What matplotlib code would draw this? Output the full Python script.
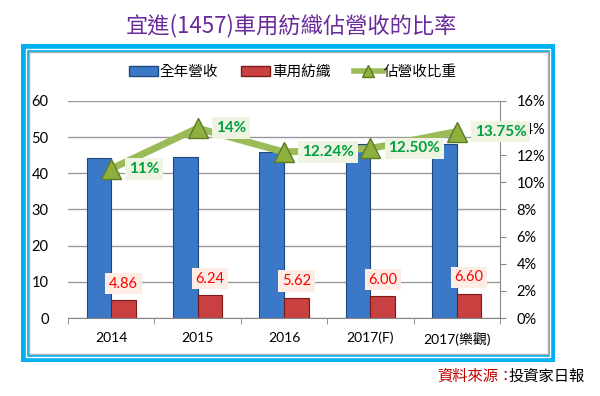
import matplotlib
matplotlib.use("Agg")
import matplotlib.pyplot as plt
import matplotlib.patches as mpatches
from matplotlib.lines import Line2D
import numpy as np

plt.rcParams['font.family'] = ['Lato', 'Noto Sans CJK TC', 'DejaVu Sans']

# datos
anos = ["2014", "2015", "2016", "2017(F)", "2017(樂觀)"]
receita = [44.2, 44.6, 45.9, 48.0, 48.0]
textil = [4.86, 6.24, 5.62, 6.00, 6.60]
razao = [11.0, 14.0, 12.24, 12.50, 13.75]
rotulos_razao = ["11%", "14%", "12.24%", "12.50%", "13.75%"]

W, H = 600, 396
fig = plt.figure(figsize=(6, 3.96), dpi=100)


def caixa(x0, y0, x1, y1, **kw):
    # retangulo em pixels (origem no topo)
    r = mpatches.Rectangle((x0 / W, 1 - y1 / H), (x1 - x0) / W, (y1 - y0) / H,
                           transform=fig.transFigure, **kw)
    fig.patches.append(r)


# moldura azul
caixa(21, 44, 555, 362, facecolor="#00B0F0", edgecolor="none", zorder=-4)
caixa(26, 49, 550, 357, facecolor="none", edgecolor="white", lw=1, zorder=-3)
caixa(29, 52, 548, 354, facecolor="white", edgecolor="#B0B0B0", lw=1, zorder=-2)

fig.text(291 / W, 1 - 26 / H, "宜進(1457)車用紡織佔營收的比率", color="#6A2A9A",
         fontsize=16, ha="center", va="center",
         family=["Noto Sans CJK TC", "DejaVu Sans"])

ax = fig.add_axes([68 / W, 1 - 318 / H, 432 / W, 217 / H])
ax.patch.set_alpha(0)
x = np.arange(len(anos))
w = 0.285

ax.bar(x - w / 2, receita, w, color="#3C78C8", edgecolor="#1F497D", lw=0.8, zorder=2)
ax.bar(x + w / 2, textil, w, color="#C94040", edgecolor="#7B1A1A", lw=0.8, zorder=2)

for i, v in enumerate(textil):
    ax.annotate(f"{v:.2f}", (x[i] + w / 2, v), xytext=(0, 12), textcoords="offset points",
                ha="center", va="center", color="red", fontsize=10.5,
                bbox=dict(boxstyle="square,pad=0.25", fc="#FDEDE4", ec="none"), zorder=5)

ax.set_ylim(0, 60)
ax.set_yticks(range(0, 61, 10))
ax.set_xlim(-0.5, len(anos) - 0.5)
ax.set_xticks(x)
ax.set_xticklabels(anos, fontsize=10)
ax.set_xticks(np.arange(-0.5, len(anos)), minor=True)
ax.tick_params(axis="x", which="major", length=0, pad=10)
ax.tick_params(axis="x", which="minor", length=4, color="#888888")
ax.tick_params(axis="y", length=0, labelsize=10.5, pad=14)
ax.grid(axis="y", color="#999999", lw=1, zorder=0)
for s in ["top", "right", "left"]:
    ax.spines[s].set_visible(False)
ax.spines["bottom"].set_color("#888888")

ax2 = ax.twinx()
ax2.patch.set_alpha(0)
ax2.plot(x, razao, color="#9BBB59", lw=5, marker="^", markersize=15,
         markerfacecolor="#8DB03E", markeredgecolor="#5E7A22", zorder=4)
for i, v in enumerate(razao):
    ax2.annotate(rotulos_razao[i], (x[i], v), xytext=(13, 0), textcoords="offset points",
                 ha="left", va="center", color="#00A040", fontsize=11, fontweight="bold",
                 bbox=dict(boxstyle="square,pad=0.25", fc="#EEF3E2", ec="none"), zorder=6)
ax2.set_ylim(0, 16)
ax2.set_yticks(range(0, 17, 2))
ax2.set_yticklabels([f"{t}%" for t in range(0, 17, 2)], fontsize=10.5)
ax2.tick_params(axis="y", length=4, color="#888888", pad=8)
for s in ["top", "left", "bottom"]:
    ax2.spines[s].set_visible(False)
ax2.spines["right"].set_color("#888888")

handles = [mpatches.Patch(facecolor="#3C78C8", edgecolor="#1F497D"),
           mpatches.Patch(facecolor="#C94040", edgecolor="#7B1A1A"),
           Line2D([0], [0], color="#9BBB59", lw=4, marker="^", markersize=8,
                  markerfacecolor="#8DB03E", markeredgecolor="#5E7A22")]
fig.legend(handles, ["全年營收", "車用紡織", "佔營收比重"], loc="center",
           bbox_to_anchor=(293 / W, 1 - 72 / H), ncol=3, frameon=False,
           fontsize=10.5, handlelength=2.0, handletextpad=0.1, columnspacing=1.6,
           prop={"family": ["Noto Sans CJK TC"], "size": 10.5})

fig.text(437 / W, 1 - 376 / H, "資料來源：", color="#C00000", fontsize=11, va="center",
         family=["Noto Sans CJK TC"])
fig.text(585 / W, 1 - 376 / H, "投資家日報", color="black", fontsize=11,
         va="center", ha="right", family=["Noto Sans CJK TC"])

fig.savefig("out.png", dpi=100)
